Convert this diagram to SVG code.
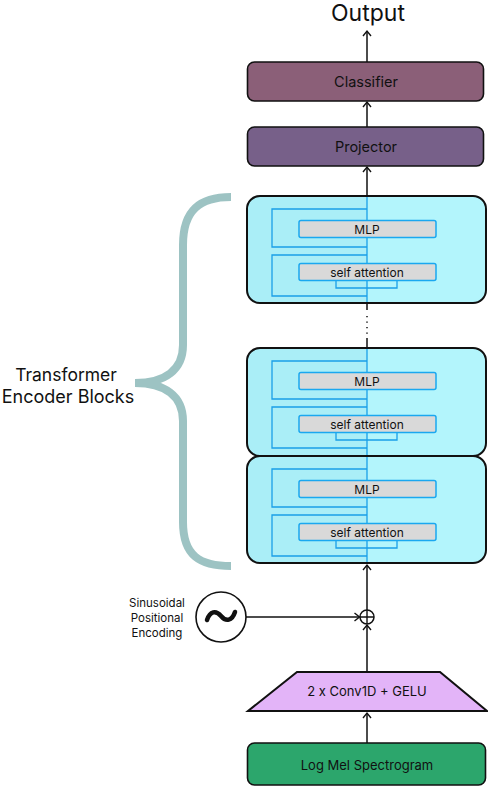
<svg xmlns="http://www.w3.org/2000/svg" width="488" height="786" viewBox="0 0 488 786">
<defs>
<marker id="ah" viewBox="-6 -6 12 12" markerWidth="12" markerHeight="12" markerUnits="userSpaceOnUse" orient="auto" refX="0" refY="0">
<path d="M-5,-4 L0,0 L-5,4" fill="none" stroke="#111" stroke-width="1.4"/>
</marker>
</defs>
<style>
text{font-family:Inter,"Liberation Sans",sans-serif;fill:#111;text-anchor:middle}
.conn{fill:none;stroke:#111;stroke-width:1.5}
.blk{fill:#aaeef7}
.blkr{fill:#b3f5fc}
.blkb{fill:none;stroke:#111;stroke-width:2}
.res{fill:none;stroke:#1a9fe8;stroke-width:1.3}
.sub{fill:#d9d9d9;stroke:#1aa8f0;stroke-width:1.5}
.spine{stroke:#1a9fe8;stroke-width:1.3}
.lbl{font-size:12px}
</style>

<text x="368" y="21" font-size="23">Output</text>

<g id="classifier">
<rect x="247.5" y="62" width="236" height="39" rx="7" fill="#8b5f78" stroke="#111" stroke-width="1.6"/>
<text x="366" y="86.5" font-size="14.5">Classifier</text>
</g>

<g id="projector">
<rect x="247.5" y="127" width="236" height="39" rx="7" fill="#776089" stroke="#111" stroke-width="1.6"/>
<text x="366" y="151.5" font-size="14.5">Projector</text>
</g>

<g id="encoder-block-1" transform="translate(0,196)">
<rect class="blk" x="247" y="0" width="239" height="107" rx="13"/>
<path class="blkr" d="M367,0 H473 A13,13 0 0 1 486,13 V94 A13,13 0 0 1 473,107 H367 Z"/>
<path class="res" d="M367,13 H272 V51 H367 M367,59 H272 V100 H367 M336,85 V92 H397 V85"/>
<line class="spine" x1="367" y1="0" x2="367" y2="107"/>
<rect class="sub" x="299" y="24.5" width="137" height="17" rx="2"/>
<text class="lbl" x="367" y="37.5">MLP</text>
<rect class="sub" x="299" y="67.5" width="137" height="17" rx="2"/>
<text class="lbl" x="367" y="80.5">self attention</text>
<rect class="blkb" x="247" y="0" width="239" height="107" rx="13"/>
</g>

<g id="encoder-block-2" transform="translate(0,348)">
<rect class="blk" x="247" y="0" width="239" height="108" rx="13"/>
<path class="blkr" d="M367,0 H473 A13,13 0 0 1 486,13 V95 A13,13 0 0 1 473,108 H367 Z"/>
<path class="res" d="M367,13 H272 V51 H367 M367,59 H272 V100 H367 M336,85 V92 H397 V85"/>
<line class="spine" x1="367" y1="0" x2="367" y2="108"/>
<rect class="sub" x="299" y="24.5" width="137" height="17" rx="2"/>
<text class="lbl" x="367" y="37.5">MLP</text>
<rect class="sub" x="299" y="67.5" width="137" height="17" rx="2"/>
<text class="lbl" x="367" y="80.5">self attention</text>
<rect class="blkb" x="247" y="0" width="239" height="108" rx="13"/>
</g>

<g id="encoder-block-3" transform="translate(0,456)">
<rect class="blk" x="247" y="0" width="239" height="107" rx="13"/>
<path class="blkr" d="M367,0 H473 A13,13 0 0 1 486,13 V94 A13,13 0 0 1 473,107 H367 Z"/>
<path class="res" d="M367,13 H272 V51 H367 M367,59 H272 V100 H367 M336,85 V92 H397 V85"/>
<line class="spine" x1="367" y1="0" x2="367" y2="107"/>
<rect class="sub" x="299" y="24.5" width="137" height="17" rx="2"/>
<text class="lbl" x="367" y="37.5">MLP</text>
<rect class="sub" x="299" y="67.5" width="137" height="17" rx="2"/>
<text class="lbl" x="367" y="80.5">self attention</text>
<rect class="blkb" x="247" y="0" width="239" height="107" rx="13"/>
</g>

<g id="brace">
<path d="M231,197 C200,197 183,210 183,245 V345 C183,370 165,383 135,383 C165,383 183,396 183,421 V522 C183,556 200,566 231,566" fill="none" stroke="#9dc3c3" stroke-width="8"/>
<text x="66" y="381" font-size="17.5">Transformer</text>
<text x="68" y="403" font-size="18">Encoder Blocks</text>
</g>

<g id="positional-encoding">
<circle cx="221" cy="617" r="25" fill="#fff" stroke="#111" stroke-width="1.6"/>
<path d="M207,620 C210,611 216,610 221,616 C226,622 232,621 235,612" fill="none" stroke="#111" stroke-width="4.5" stroke-linecap="round"/>
<text x="157" y="607" font-size="11.5">Sinusoidal</text>
<text x="157" y="622" font-size="11.5">Positional</text>
<text x="157" y="637" font-size="11.5">Encoding</text>
</g>

<g id="add">
<circle cx="367" cy="617" r="7" fill="#fff" stroke="#111" stroke-width="1.5"/>
<path d="M360,617 H374 M367,610 V624" stroke="#111" stroke-width="1.4"/>
</g>

<g id="conv">
<path d="M297,672 H440 L487,711 H248 Z" fill="#e3b4f8" stroke="#111" stroke-width="2"/>
<text x="367" y="696" font-size="13">2 x Conv1D + GELU</text>
</g>

<g id="log-mel">
<rect x="247.5" y="743" width="238" height="42" rx="7" fill="#2ca66c" stroke="#111" stroke-width="1.6"/>
<text x="367" y="770" font-size="13">Log Mel Spectrogram</text>
</g>

<g id="connectors">
<line class="conn" x1="367" y1="62" x2="367" y2="31" marker-end="url(#ah)"/>
<line class="conn" x1="367" y1="127" x2="367" y2="102" marker-end="url(#ah)"/>
<line class="conn" x1="367" y1="196" x2="367" y2="167" marker-end="url(#ah)"/>
<line class="conn" x1="367" y1="304" x2="367" y2="310"/>
<line x1="367" y1="316" x2="367" y2="335" stroke="#111" stroke-width="1.5" stroke-dasharray="1.2 4.3"/>
<line class="conn" x1="367" y1="338" x2="367" y2="348"/>
<line class="conn" x1="367" y1="610" x2="367" y2="565" marker-end="url(#ah)"/>
<line class="conn" x1="246" y1="617" x2="359.5" y2="617" marker-end="url(#ah)"/>
<line class="conn" x1="367" y1="672" x2="367" y2="625" marker-end="url(#ah)"/>
<line class="conn" x1="367" y1="743" x2="367" y2="713" marker-end="url(#ah)"/>
</g>
</svg>
